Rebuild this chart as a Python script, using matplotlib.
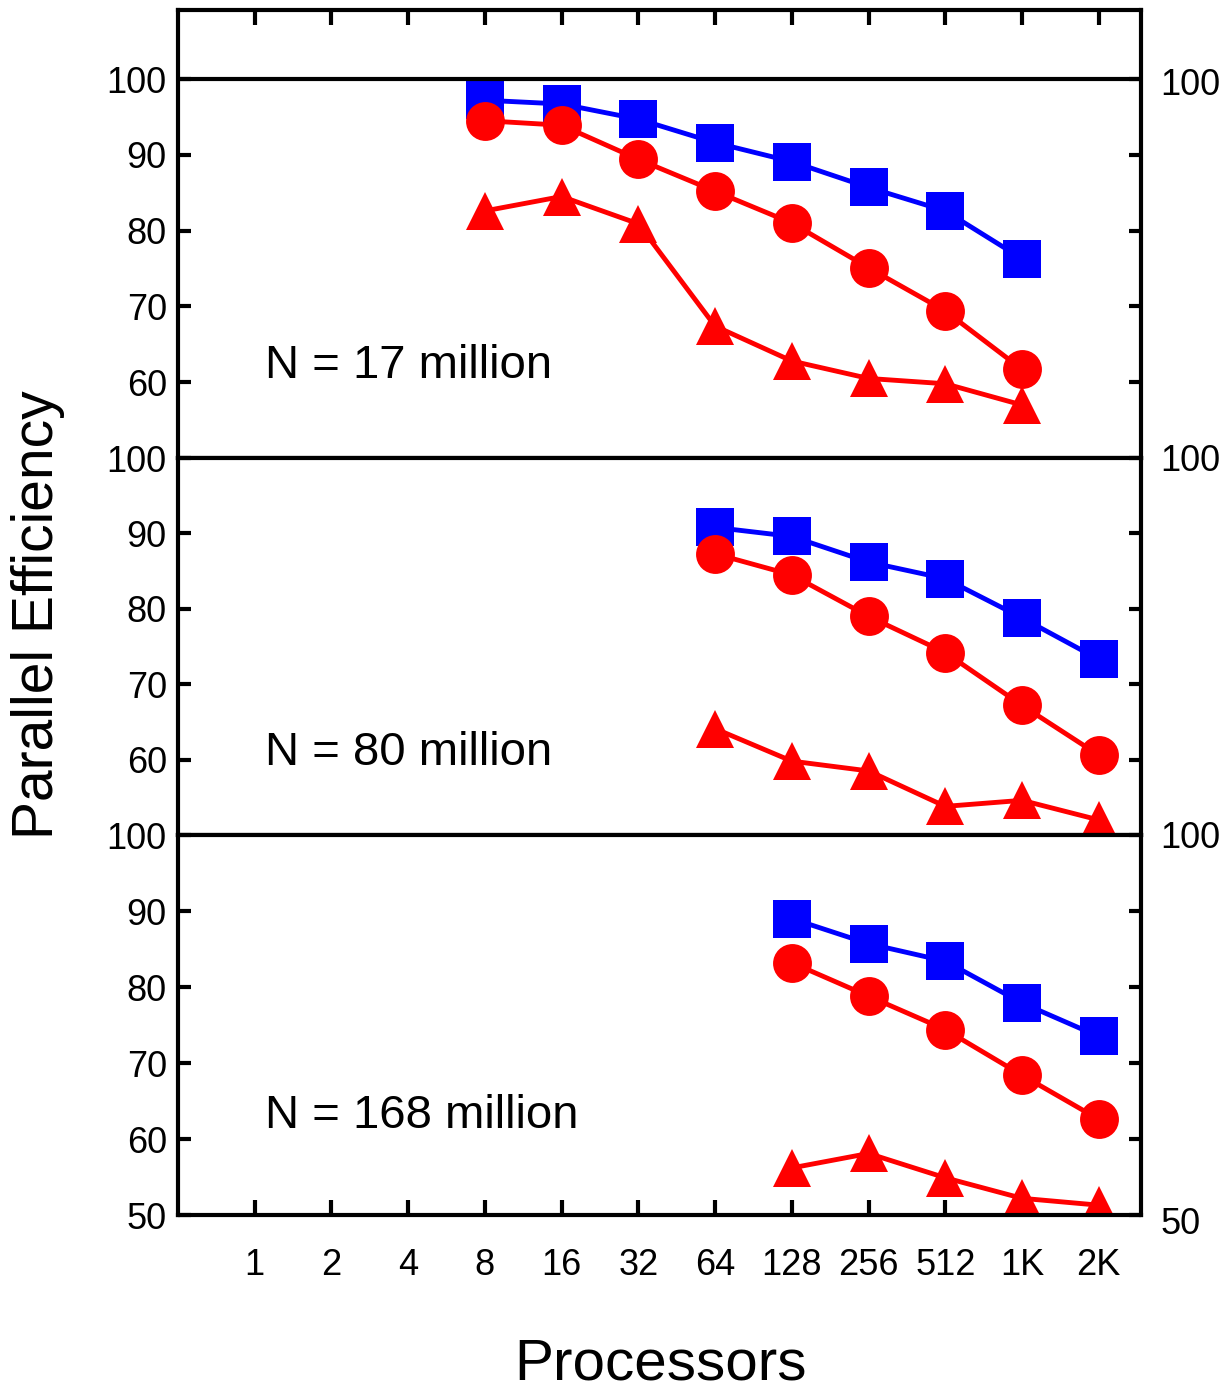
import numpy as np
import matplotlib
matplotlib.use('Agg')
import matplotlib.pyplot as plt

plt.rcParams['font.family'] = ['Liberation Sans', 'DejaVu Sans']

# x categories (log2 spaced processor counts)
procs = ['1', '2', '4', '8', '16', '32', '64', '128', '256', '512', '1K', '2K']
ind = np.arange(len(procs))

# N = 17 million : 8 .. 1K
x17 = ind[3:11]
sq17 = [97.2, 96.7, 94.7, 91.6, 89.1, 85.7, 82.6, 76.3]
ci17 = [94.5, 93.9, 89.4, 85.2, 81.0, 75.1, 69.4, 61.7]
tr17 = [82.6, 84.5, 80.9, 67.4, 62.8, 60.5, 59.8, 57.0]

# N = 80 million : 64 .. 2K
x80 = ind[6:12]
sq80 = [90.8, 89.6, 86.2, 84.0, 78.8, 73.3]
ci80 = [87.3, 84.5, 79.0, 74.2, 67.2, 60.6]
tr80 = [64.1, 59.8, 58.5, 53.8, 54.6, 52.0]

# N = 168 million : 128 .. 2K
x168 = ind[7:12]
sq168 = [89.0, 85.7, 83.4, 77.9, 73.5]
ci168 = [83.2, 78.8, 74.4, 68.4, 62.6]
tr168 = [56.2, 58.1, 54.9, 52.2, 51.3]

fig = plt.figure(figsize=(12.3, 13.91), dpi=100)
left, width = 0.1447, 0.7829
ax1 = fig.add_axes([left, 0.6707, width, 0.3221])
ax2 = fig.add_axes([left, 0.3997, width, 0.2710])
ax3 = fig.add_axes([left, 0.1265, width, 0.2732])

blue = '#0000ff'
red = '#ff0000'
lw = 3.5
fs = 26

def draw(ax, x, sq, ci, tr):
    ax.plot(x, sq, color=blue, lw=lw, marker='s', ms=27, mew=0)
    ax.plot(x, ci, color=red, lw=lw, marker='o', ms=28, mew=0)
    ax.plot(x, tr, color=red, lw=lw, marker='^', ms=27, mew=0)

draw(ax1, x17, sq17, ci17, tr17)
draw(ax2, x80, sq80, ci80, tr80)
draw(ax3, x168, sq168, ci168, tr168)

ax1.axhline(100, color='black', lw=3.0)

ax1.set_ylim(50, 109.1)
ax2.set_ylim(50, 100)
ax3.set_ylim(50, 100)
ax1.set_yticks([60, 70, 80, 90, 100])
ax2.set_yticks([60, 70, 80, 90, 100])
ax3.set_yticks([50, 60, 70, 80, 90, 100])

for ax in (ax1, ax2, ax3):
    ax.set_xlim(-1, 11.55)
    ax.set_xticks(ind)
    for s in ax.spines.values():
        s.set_linewidth(3.0)
    ax.tick_params(axis='y', direction='in', left=True, right=True,
                   length=9, width=3.0, labelsize=fs, pad=8)
    ax.tick_params(axis='x', direction='in', length=11, width=3.0,
                   labelsize=fs, pad=24, bottom=False, top=False,
                   labelbottom=False)

ax1.tick_params(axis='x', top=True)
ax3.tick_params(axis='x', bottom=True, labelbottom=True)
ax3.set_xticklabels(procs)

# right-hand labels
ax1.text(1.02, 99.2, '100', transform=ax1.get_yaxis_transform(),
         fontsize=fs, va='center', ha='left')
ax2.text(1.02, 99.6, '100', transform=ax2.get_yaxis_transform(),
         fontsize=fs, va='center', ha='left', clip_on=False)
ax3.text(1.02, 99.6, '100', transform=ax3.get_yaxis_transform(),
         fontsize=fs, va='center', ha='left', clip_on=False)
ax3.text(1.02, 48.7, '50', transform=ax3.get_yaxis_transform(),
         fontsize=fs, va='center', ha='left', clip_on=False)

ax1.text(0.13, 60.5, 'N = 17 million', fontsize=34, va='baseline')
ax2.text(0.13, 59.3, 'N = 80 million', fontsize=34, va='baseline')
ax3.text(0.14, 61.4, 'N = 168 million', fontsize=34, va='baseline')

fig.text(0.031, 0.558, 'Parallel Efficiency', rotation=90, fontsize=41,
         va='center', ha='center')
fig.text(0.537, 0.0187, 'Processors', fontsize=42, va='center', ha='center')

plt.savefig('out.png', dpi=100)
